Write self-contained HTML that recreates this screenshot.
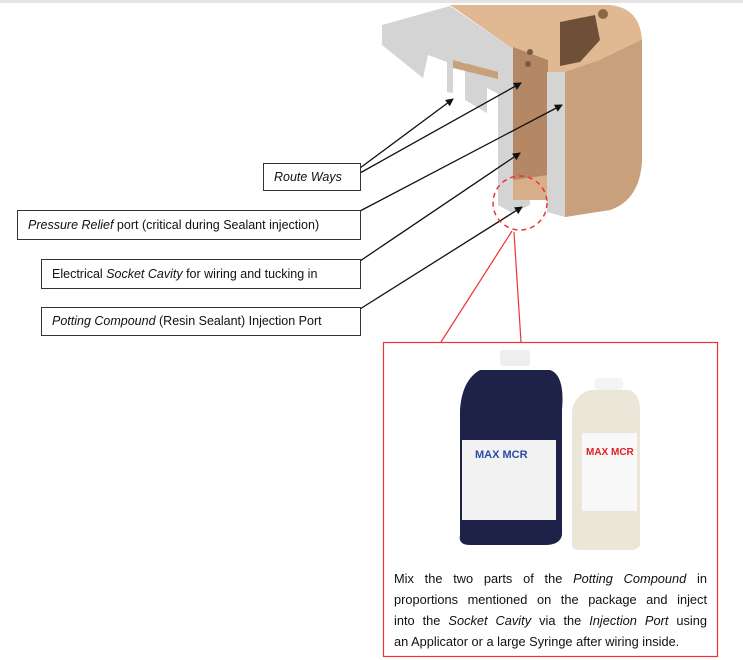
<!DOCTYPE html>
<html><head><style>
body{margin:0;width:743px;height:660px;background:#fff;position:relative;overflow:hidden;font-family:"Liberation Sans",sans-serif;}
.b{position:absolute;border:1px solid #333;background:#fff;font-size:12.5px;color:#111;box-sizing:border-box;line-height:26px;padding-left:10px;white-space:nowrap;}
.t{position:absolute;left:394px;top:568px;width:313px;font-size:12.8px;line-height:21px;text-align:justify;text-align-last:justify;color:#111;}
.t span{display:block;}
</style></head><body>
<div style="position:absolute;left:0;top:0;width:743px;height:3px;background:#e4e4e4"></div>
<svg width="743" height="660" style="position:absolute;left:0;top:0">
<defs><marker id="a" markerWidth="8" markerHeight="8" refX="7" refY="4" orient="auto" markerUnits="userSpaceOnUse"><path d="M0,0 L8,4 L0,8z" fill="#111"/></marker></defs>
<!-- part -->
<path d="M450,5 L610,5 Q640,8 642,40 L642,160 Q640,200 610,210 L565,217 L565,72 L548,72 L548,60 L510,47 Z" fill="#e0b892"/>
<path d="M565,72 L600,60 Q630,45 642,40 L642,160 Q640,200 610,210 L565,217 Z" fill="#c9a07c"/>
<path d="M560,22 L595,15 L600,40 L580,62 L560,66Z" fill="#6e5038"/>
<circle cx="603" cy="14" r="5" fill="#8a6648"/>
<path d="M382,25 L450,6 L510,47 L510,100 L497,93 L487,88 L487,113 L465,100 L465,62 L453,64 L453,93 L447,92 L447,62 L428,55 L423,78 L382,45 Z" fill="#d4d4d4"/>
<path d="M453,60 L510,75 L510,82 L453,68Z" fill="#c9a07c"/>
<path d="M498,47 L513,47 L513,213 L498,205 Z" fill="#d4d4d4"/>
<path d="M513,47 L548,60 L548,180 L513,180 Z" fill="#b48865"/>
<path d="M513,180 L548,175 L548,200 L513,200Z" fill="#d9ae8a"/>
<path d="M498,205 L513,213 L530,205 L530,200 L513,200 L513,180 L498,180Z" fill="#d4d4d4"/>
<path d="M547,72 L565,72 L565,217 L547,212 Z" fill="#d4d4d4"/>
<circle cx="530" cy="52" r="3" fill="#7a5a40"/><circle cx="528" cy="64" r="3" fill="#7a5a40"/>
<!-- arrows -->
<g stroke="#111" stroke-width="1.3" fill="none">
<line x1="360" y1="168" x2="453" y2="99" marker-end="url(#a)"/>
<line x1="360" y1="173" x2="521" y2="83" marker-end="url(#a)"/>
<line x1="360" y1="211" x2="562" y2="105" marker-end="url(#a)"/>
<line x1="360" y1="261" x2="520" y2="153" marker-end="url(#a)"/>
<line x1="360" y1="309" x2="522" y2="207" marker-end="url(#a)"/>
</g>
<circle cx="520" cy="203" r="27" fill="none" stroke="#e33" stroke-width="1.5" stroke-dasharray="5,4"/>
<g stroke="#e33" stroke-width="1.2" fill="none">
<rect x="383.5" y="342.5" width="334" height="314"/>
<line x1="441" y1="342" x2="512" y2="231"/>
<line x1="521" y1="342" x2="514" y2="232"/>
</g>
<!-- bottles -->
<rect x="500" y="350" width="30" height="16" rx="3" fill="#eee"/>
<path d="M480,370 L550,370 Q565,375 562,410 L562,535 Q560,545 545,545 L470,545 Q458,545 460,535 L460,410 Q462,380 480,370Z" fill="#1e2148"/>
<rect x="462" y="440" width="94" height="80" fill="#f2f2f2"/>
<text x="475" y="458" font-family="Liberation Sans" font-weight="bold" font-size="11" fill="#2a4aa8">MAX MCR</text>
<rect x="595" y="378" width="28" height="12" rx="3" fill="#f4f4f4"/>
<path d="M590,390 L630,390 Q640,395 640,410 L640,545 Q638,550 630,550 L580,550 Q572,550 572,545 L572,410 Q575,395 590,390Z" fill="#ece6d8"/>
<rect x="582" y="433" width="55" height="78" fill="#f8f8f8"/>
<text x="586" y="455" font-family="Liberation Sans" font-weight="bold" font-size="10" fill="#d22">MAX MCR</text>
</svg>
<div class="b" style="left:263px;top:163px;width:98px;height:28px;"><i>Route Ways</i></div>
<div class="b" style="left:17px;top:210px;width:344px;height:30px;line-height:28px"><i>Pressure Relief</i> port (critical during Sealant injection)</div>
<div class="b" style="left:41px;top:259px;width:320px;height:30px;line-height:28px">Electrical <i>Socket Cavity</i> for wiring and tucking in</div>
<div class="b" style="left:41px;top:307px;width:320px;height:29px;line-height:27px"><i>Potting Compound</i> (Resin Sealant) Injection Port</div>
<div class="t"><span>Mix the two parts of the <i>Potting Compound</i> in</span><span>proportions mentioned on the package and inject</span><span>into the <i>Socket Cavity</i> via the <i>Injection Port</i> using</span><span style="text-align-last:left">an Applicator or a large Syringe after wiring inside.</span></div>
</body></html>
